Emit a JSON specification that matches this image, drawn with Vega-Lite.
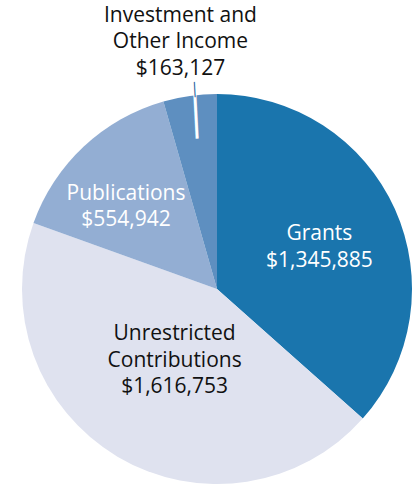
{
  "$schema": "https://vega.github.io/schema/vega-lite/v6.json",
  "width": 400,
  "height": 390,
  "autosize": "none",
  "padding": {"left": 17, "top": 94, "right": 0, "bottom": 0},
  "background": "white",
  "view": {"stroke": null},
  "config": {"text": {"font": "Open Sans", "fontSize": 21, "lineHeight": 26.5, "lineBreak": "\n", "baseline": "middle"}},
  "data": {"values": [
    {"category": "Grants", "value": 1345885, "rank": 1, "label": "Grants\n$1,345,885"},
    {"category": "Unrestricted Contributions", "value": 1616753, "rank": 2, "label": "Unrestricted\nContributions\n$1,616,753"},
    {"category": "Publications", "value": 554942, "rank": 3, "label": "Publications\n$554,942"},
    {"category": "Investment and Other Income", "value": 163127, "rank": 4, "label": "Investment and\nOther Income\n$163,127"}
  ]},
  "encoding": {
    "theta": {"field": "value", "type": "quantitative", "stack": true},
    "order": {"field": "rank", "type": "quantitative"},
    "detail": {"field": "category", "type": "nominal"}
  },
  "layer": [
    {
      "mark": {"type": "arc", "radius": 195},
      "encoding": {
        "color": {
          "field": "category", "type": "nominal", "legend": null,
          "scale": {
            "domain": ["Grants", "Unrestricted Contributions", "Publications", "Investment and Other Income"],
            "range": ["#1a75ad", "#dfe2ef", "#93aed3", "#5e8fc0"]
          }
        }
      }
    },
    {
      "mark": {"type": "text", "radius": 110.6, "dx": 1.5, "dy": -9.5, "color": "white"},
      "encoding": {"text": {"condition": {"test": "datum.category === 'Grants'", "field": "label"}, "value": ""}}
    },
    {
      "mark": {"type": "text", "radius": 83, "dy": -26, "color": "#111111"},
      "encoding": {"text": {"condition": {"test": "datum.category === 'Unrestricted Contributions'", "field": "label"}, "value": ""}}
    },
    {
      "mark": {"type": "text", "radius": 122.5, "dx": -7.3, "dy": -6, "color": "white"},
      "encoding": {"text": {"condition": {"test": "datum.category === 'Publications'", "field": "label"}, "value": ""}}
    },
    {
      "mark": {"type": "text", "radius": 249, "dx": -2, "dy": -26.5, "color": "#111111"},
      "encoding": {"text": {"condition": {"test": "datum.category === 'Investment and Other Income'", "field": "label"}, "value": ""}}
    },
    {
      "mark": {"type": "text", "radius": 172, "dx": 3, "angle": -3, "font": "DejaVu Sans", "fontSize": 37, "color": "white", "text": "│"},
      "encoding": {"opacity": {"condition": {"test": "datum.category === 'Investment and Other Income'", "value": 1}, "value": 0}}
    },
    {
      "mark": {"type": "text", "radius": 200.7, "dx": 5.5, "angle": -3, "font": "DejaVu Sans", "fontSize": 13, "color": "#1b5e9b", "text": "│"},
      "encoding": {"opacity": {"condition": {"test": "datum.category === 'Investment and Other Income'", "value": 1}, "value": 0}}
    }
  ]
}
